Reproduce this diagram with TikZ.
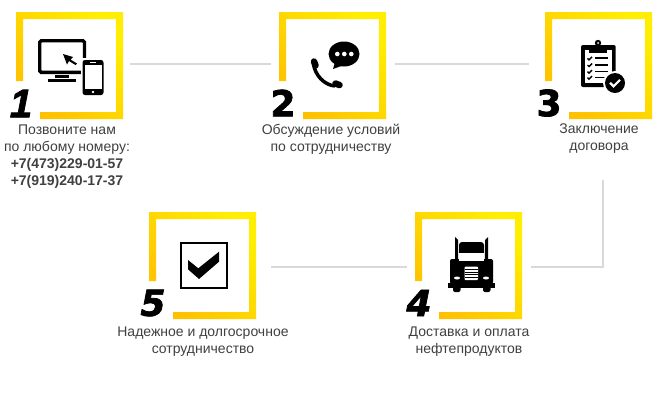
\documentclass[tikz,border=0pt]{standalone}
\usepackage{fontspec}
\setmainfont{Liberation Sans}
\newfontfamily\digitfont[FakeBold=2]{DejaVu Sans Bold}
\newfontfamily\digitslantfont[FakeBold=2]{DejaVu Sans Bold Oblique}
\newfontfamily\onefont[FakeBold=2]{Liberation Sans Bold Italic}
\usetikzlibrary{calc}
\definecolor{framelow}{HTML}{FFC000}
\definecolor{framehigh}{HTML}{FFEE00}
\definecolor{linkgrey}{HTML}{D9D9D9}
\definecolor{labelgrey}{HTML}{404040}
\tikzset{
  caption/.style={align=center, text=labelgrey, font=\fontsize{14}{17}\selectfont, inner sep=0pt},
  phonenum/.style={align=center, text=labelgrey, font=\fontsize{14}{17}\selectfont\bfseries, inner sep=0pt},
  digit/.style={font=\fontsize{36}{36}\digitfont, inner sep=0pt, text=black},
  digitslant/.style={font=\fontsize{36}{36}\digitslantfont, inner sep=0pt, text=black},
  digitone/.style={font=\fontsize{40}{40}\onefont, inner sep=0pt, text=black},
  linkline/.style={draw=linkgrey, line width=2},
  ink/.style={fill=black, draw=none},
  paper/.style={fill=white, draw=none}
}
% frame with its lower left corner left open
\newcommand{\stepframe}[2]{%
  \shade[top color=framehigh, bottom color=framelow, shading angle=-45]
    (#1,#2+69) -- (#1,#2) -- (#1+107,#2) -- (#1+107,#2+107) -- (#1+24,#2+107) -- (#1+24,#2+100)
    -- (#1+100,#2+100) -- (#1+100,#2+7) -- (#1+7,#2+7) -- (#1+7,#2+69) -- cycle;
}
\begin{document}
\begin{tikzpicture}[x=1pt, y=-1pt]
\useasboundingbox (0,0) rectangle (660,400);
\fill[white] (0,0) rectangle (660,400);

\stepframe{16}{12}
\stepframe{279}{12}
\stepframe{545}{12}
\stepframe{415}{212}
\stepframe{149}{212}

\node[digitone] (num1) at (21,103.5) {1};
\node[digit] (num2) at (283,103) {2};
\node[digit] (num3) at (549,103) {3};
\node[digitslant] (num4) at (419,303) {4};
\node[digitslant] (num5) at (153,303) {5};

\node[caption] (text1) at (67,139.5) {Позвоните нам\\по любому номеру:};
\node[phonenum] (phone1) at (67,173) {+7(473)229-01-57\\+7(919)240-17-37};
\node[caption] (text2) at (331,139.5) {Обсуждение условий\\по сотрудничеству};
\node[caption] (text3) at (599,138.5) {Заключение\\договора};
\node[caption] (text4) at (469,341.5) {Доставка и оплата\\нефтепродуктов};
\node[caption] (text5) at (203,341.5) {Надежное и долгосрочное\\сотрудничество};

% connectors
\coordinate (a1) at (130,63.5);
\coordinate (a2) at (271,63.5);
\coordinate (b1) at (395,63.5);
\coordinate (b2) at (529,63.5);
\coordinate (c1) at (602.5,180);
\coordinate (c2) at (531,266.5);
\coordinate (d1) at (407,266.5);
\coordinate (d2) at (271,266.5);
\draw[linkline] (a1) -- (a2);
\draw[linkline] (b1) -- (b2);
\draw[linkline] (c1) |- (c2);
\draw[linkline] (d1) -- (d2);

% icon 1: monitor and phone
\draw[line width=3.4, rounded corners=1.5] (39.7,40.7) rectangle (84.5,72.3);
\fill[ink] (55,75) rectangle (69,78);
\fill[ink] (48,79) rectangle (76,81.5);
\fill[ink] (63,54) -- (73,57) -- (70.5,59.5) -- (77,63.5) -- (75.5,65) -- (69,61) -- (67,64.5) -- cycle;
\fill[white] (81,58) rectangle (105,97);
\fill[ink, rounded corners=2.5] (82.5,60) rectangle (103.5,95);
\fill[paper] (84.5,65) rectangle (101.5,89);
\fill[paper] (93,92) circle (1.3);
\fill[paper] (90,61.8) rectangle (96,63);

% icon 2: handset and bubble
\fill[ink] (344,54) ellipse (15.5 and 12.5);
\fill[ink] (335,62) -- (333,69) -- (344,65) -- cycle;
\foreach \dotx in {337.3,344.3,351.3}
  \fill[paper] (\dotx,54) circle (2.3);
\draw[line width=3.5] (313.5,64) .. controls (315,75) and (324,85) .. (335,86);
\draw[line width=6.5, line cap=round] (314,61.5) -- (315.5,65.5);
\draw[line width=6.5, line cap=round] (335.5,83.5) -- (339.5,85);

% icon 3: clipboard
\fill[ink, rounded corners=2] (581,45) rectangle (615.7,87);
\fill[ink] (590,45) rectangle (607,51);
\fill[ink] (598,43) circle (3.2);
\fill[paper] (598,43) circle (1);
\fill[paper] (585,50) rectangle (612,83);
\fill[ink] (589,49) rectangle (607,53);
\foreach \rowy in {58.3,65,71.7,77.7}
{
  \draw[line width=1.4] (587.5,\rowy) -- (589,\rowy+1.5) -- (592,\rowy-1.5);
  \fill[ink] (595,\rowy-1) rectangle (608,\rowy+0.6);
}
\fill[paper] (615,83) circle (12);
\fill[ink] (615,83) circle (10);
\draw[white, line width=2.2] (610,82.8) -- (613.5,86.3) -- (620,79.8);

% icon 4: truck
\fill[ink] (455,237) -- (458,240) -- (458,262) -- (455,262) -- cycle;
\fill[ink] (488,237) -- (485,240) -- (485,262) -- (488,262) -- cycle;
\fill[ink, rounded corners=3] (459,242) rectangle (484,262);
\fill[ink, rounded corners=2] (450,259) rectangle (493,284);
\fill[ink] (448,283) rectangle (495,288);
\fill[ink, rounded corners=2] (453,285) rectangle (460.5,292);
\fill[ink, rounded corners=2] (483,285) rectangle (490.5,292);
\fill[paper] (459,253) rectangle (484,260.5);
\fill[paper] (457,278) ellipse (3 and 1.5);
\fill[paper] (486,278) ellipse (3 and 1.5);
\fill[paper, rounded corners=1] (464.5,266.5) rectangle (478,280);
\foreach \rowy in {269,271.7,274.4,277.1}
  \fill[ink] (464.5,\rowy) rectangle (478,\rowy+0.8);

% icon 5: check box
\draw[line width=2] (181,243) rectangle (226.5,288);
\fill[ink] (188,260) -- (198.3,268.3) -- (219,251.7) -- (219,261.7) -- (199,279) -- (188,269.3) -- cycle;
\end{tikzpicture}
\end{document}
